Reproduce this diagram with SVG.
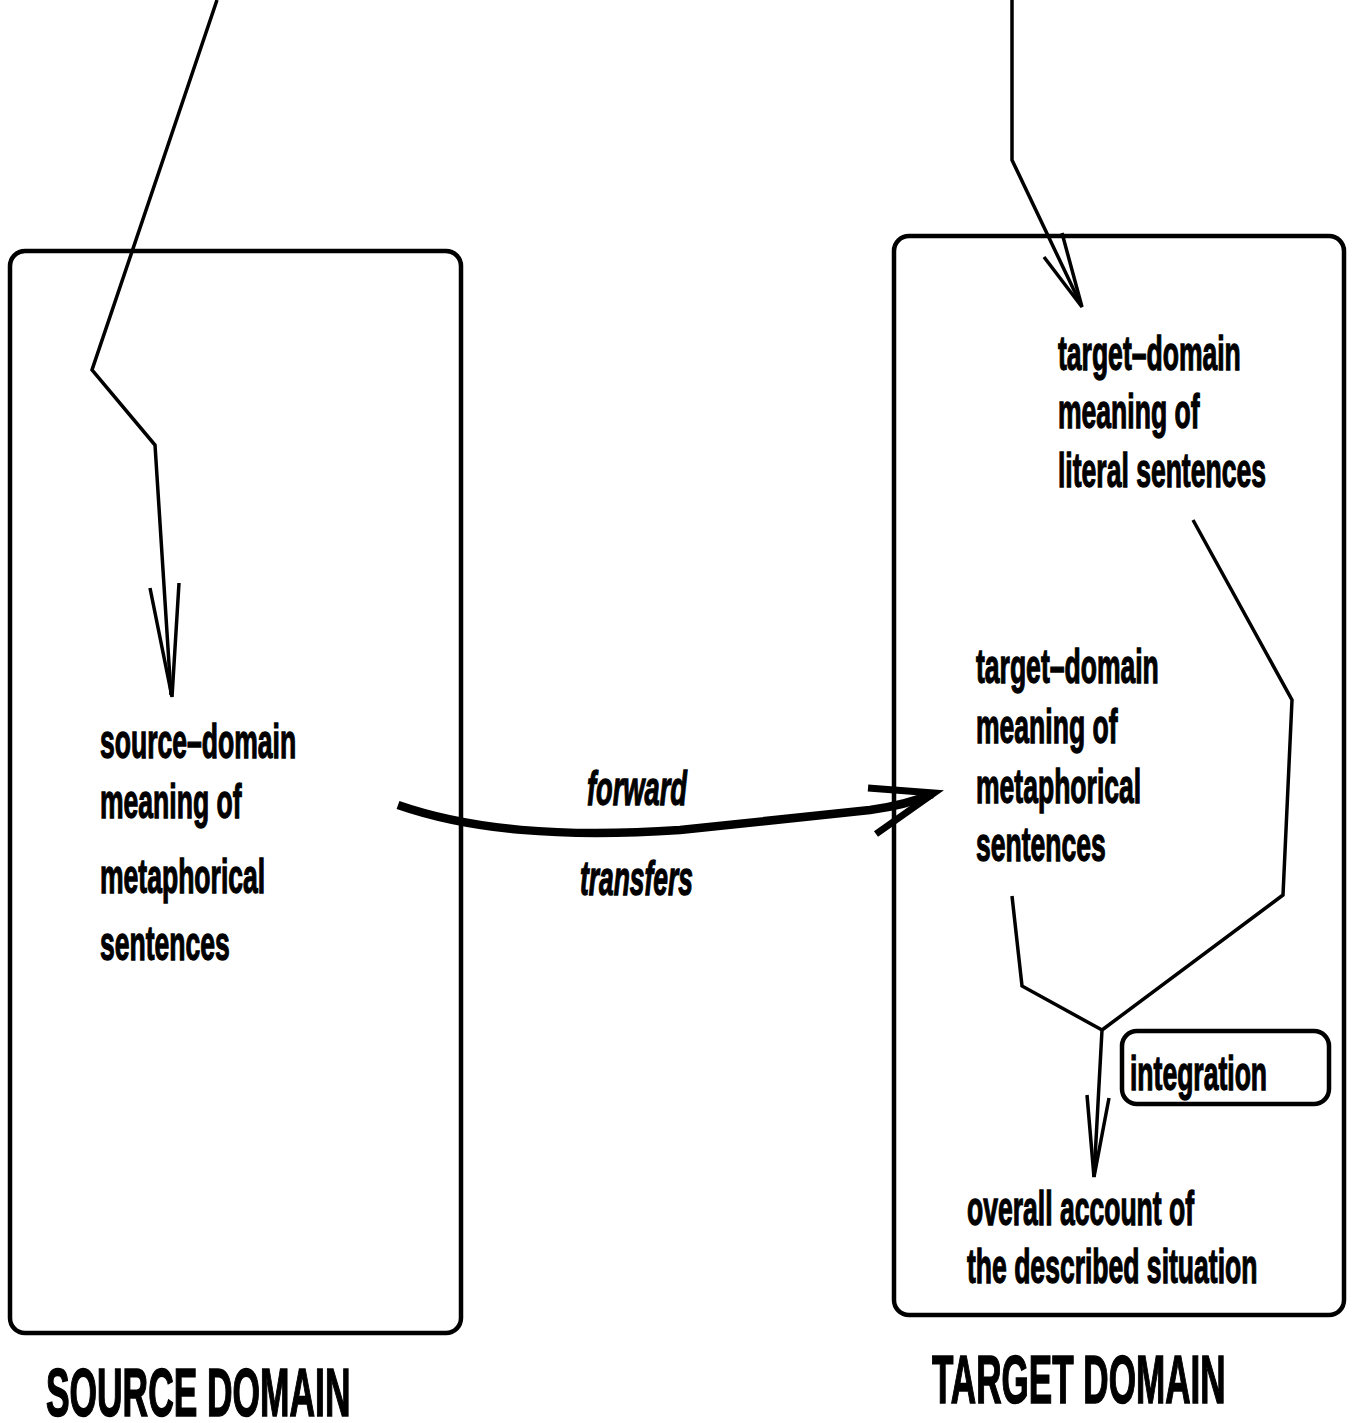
<svg xmlns="http://www.w3.org/2000/svg" width="1354" height="1423" viewBox="0 0 1354 1423">
<style>
.box{fill:none;stroke:#000;stroke-width:4.5}
.ln{fill:none;stroke:#000;stroke-width:3.5;stroke-linejoin:miter}
.t{font-family:"Liberation Sans",Arial,sans-serif;font-weight:bold;font-size:48px;fill:#000;stroke:#000;stroke-width:1.3}
.it{font-family:"Liberation Sans",Arial,sans-serif;font-weight:bold;font-style:italic;font-size:48px;fill:#000;stroke:#000;stroke-width:1.3}
.cap{font-family:"Liberation Sans",Arial,sans-serif;font-weight:bold;font-size:68px;fill:#000;stroke:#000;stroke-width:1.6}
</style>
<rect width="1354" height="1423" fill="#fff"/>
<g id="source-domain">
<rect class="box" x="10" y="251" width="451" height="1082" rx="15"/>
<text class="cap" transform="translate(46,1416) scale(0.52,1)">SOURCE DOMAIN</text>
</g>
<g id="target-domain">
<rect class="box" x="894" y="236" width="450" height="1079" rx="15"/>
<text class="cap" transform="translate(932,1403) scale(0.516,1)">TARGET DOMAIN</text>
</g>
<g id="source-meaning">
<text class="t" transform="translate(100,758) scale(0.553,1)">source–domain</text>
<text class="t" transform="translate(100,818) scale(0.553,1)">meaning of</text>
<text class="t" transform="translate(100,893) scale(0.553,1)">metaphorical</text>
<text class="t" transform="translate(100,960) scale(0.553,1)">sentences</text>
</g>
<g id="target-literal">
<text class="t" transform="translate(1058,370) scale(0.553,1)">target–domain</text>
<text class="t" transform="translate(1058,428) scale(0.553,1)">meaning of</text>
<text class="t" transform="translate(1058,487) scale(0.553,1)">literal sentences</text>
</g>
<g id="target-metaphorical">
<text class="t" transform="translate(976,683) scale(0.553,1)">target–domain</text>
<text class="t" transform="translate(976,743) scale(0.553,1)">meaning of</text>
<text class="t" transform="translate(976,803) scale(0.553,1)">metaphorical</text>
<text class="t" transform="translate(976,861) scale(0.553,1)">sentences</text>
</g>
<g id="integration">
<rect class="box" x="1122" y="1031" width="207" height="73" rx="15"/>
<text class="t" transform="translate(1130,1090) scale(0.553,1)">integration</text>
</g>
<g id="overall-account">
<text class="t" transform="translate(967,1225) scale(0.553,1)">overall account of</text>
<text class="t" transform="translate(967,1283) scale(0.553,1)">the described situation</text>
</g>
<g id="connectors">
<polyline class="ln" stroke-width="5" points="217,0 92,370 155,445 171,695"/>
<polyline class="ln" stroke-width="5" points="150,588 172,697 179,583"/>
<polyline class="ln" points="1012,0 1012,160 1081,305"/>
<polyline class="ln" points="1044,257 1082,307 1062,233"/>
<polyline class="ln" points="1193,520 1292,700 1283,895 1102,1030"/>
<polyline class="ln" points="1012,896 1022,986 1102,1030 1094,1177"/>
<polyline class="ln" points="1087,1095 1094,1177 1109,1098"/>
<path d="M398,805 C470,830 560,838 680,830 L870,810 C900,806 918,800 932,794" fill="none" stroke="#000" stroke-width="8.5"/>
<polyline points="868,788 934,793 876,834" fill="none" stroke="#000" stroke-width="7"/>
<text class="it" transform="translate(587,805) scale(0.568,1)">forward</text>
<text class="it" transform="translate(580,895) scale(0.55,1)">transfers</text>
</g>
</svg>
